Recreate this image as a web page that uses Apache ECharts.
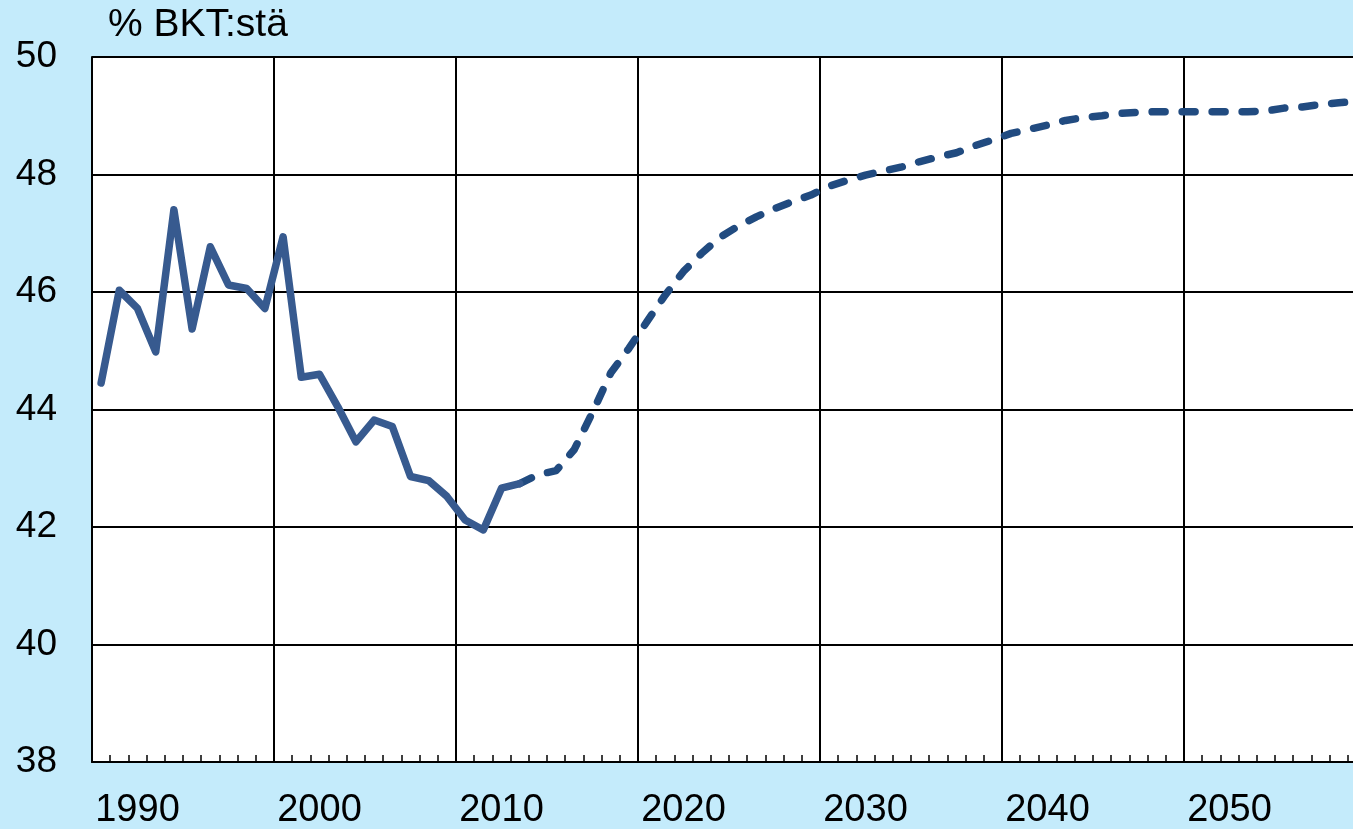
<!DOCTYPE html>
<html>
<head>
<meta charset="utf-8">
<script src="https://cdn.jsdelivr.net/npm/echarts@6/dist/echarts.min.js"></script>
<style>
  html, body { margin: 0; padding: 0; }
  #chart { width: 1353px; height: 829px; }
</style>
</head>
<body>
<div id="chart"></div>
<script>
// vuodet 1988-2057
const years = [];
for (let y = 1988; y <= 2057; y++) years.push(String(y));

// toteutunut (1988-2011)
const actual = [44.45, 46.03, 45.72, 44.98, 47.40, 45.37, 46.77, 46.12, 46.06, 45.72,
  46.94, 44.55, 44.60, 44.05, 43.45, 43.82, 43.71, 42.86, 42.79, 42.52,
  42.12, 41.95, 42.66, 42.74];

// ennuste (2011-2057)
const projection = [42.74, 42.89, 42.96, 43.32, 43.95, 44.62, 45.04, 45.50, 45.95, 46.35,
  46.66, 46.93, 47.12, 47.28, 47.42, 47.54, 47.65, 47.80, 47.90, 47.99,
  48.06, 48.13, 48.22, 48.30, 48.37, 48.49, 48.59, 48.70, 48.77, 48.84,
  48.92, 48.97, 49.00, 49.04, 49.06, 49.07, 49.07, 49.07, 49.07, 49.07,
  49.07, 49.08, 49.13, 49.15, 49.19, 49.22, 49.25];

const yTicks = [38, 40, 42, 44, 46, 48, 50];
const unitLabel = '% BKT:stä';

const projStart = actual.length - 1;
const solidData = years.map((_, i) => (i < actual.length ? actual[i] : null));
const dashData = years.map((_, i) => (i >= projStart ? projection[i - projStart] : null));

const font = 'Liberation Sans, Arial, sans-serif';
const chart = echarts.init(document.getElementById('chart'));

chart.setOption({
  backgroundColor: '#c4ebfb',
  animation: false,
  textStyle: { fontFamily: font },
  graphic: [
    {
      type: 'text',
      left: 108,
      top: 6,
      style: { text: unitLabel, font: '39px ' + font, fill: '#000' }
    }
  ],
  grid: {
    left: 92,
    top: 57,
    right: -13,
    bottom: 67,
    outerBoundsMode: 'none',
    show: true,
    backgroundColor: '#ffffff',
    borderWidth: 0
  },
  xAxis: {
    type: 'category',
    data: years,
    boundaryGap: true,
    axisLine: { lineStyle: { color: '#000', width: 2 } },
    axisTick: {
      show: true,
      interval: 0,
      inside: true,
      length: 7,
      lineStyle: { color: '#000', width: 1.5 }
    },
    axisLabel: {
      interval: (i, v) => Number(v) % 10 === 0,
      margin: 30,
      fontSize: 38,
      color: '#000',
      fontFamily: font
    },
    splitLine: {
      show: true,
      interval: (i) => i % 10 === 0,
      lineStyle: { color: '#000', width: 2 }
    }
  },
  yAxis: {
    type: 'value',
    min: yTicks[0],
    max: yTicks[yTicks.length - 1],
    interval: 2,
    axisLine: { show: true, lineStyle: { color: '#000', width: 2 } },
    axisTick: { show: false },
    axisLabel: {
      margin: 35,
      fontSize: 37,
      color: '#000',
      fontFamily: font
    },
    splitLine: { show: true, lineStyle: { color: '#000', width: 2 } }
  },
  series: [
    {
      name: 'toteutunut',
      type: 'line',
      data: solidData,
      symbol: 'none',
      connectNulls: false,
      lineStyle: { color: '#375a8f', width: 7.5, join: 'round', cap: 'round' },
      z: 3
    },
    {
      name: 'ennuste',
      type: 'line',
      data: dashData,
      symbol: 'none',
      connectNulls: false,
      lineStyle: {
        color: '#214b80',
        width: 7.5,
        type: [13, 17],
        cap: 'round',
        join: 'round'
      },
      z: 2
    }
  ]
});
</script>
</body>
</html>
